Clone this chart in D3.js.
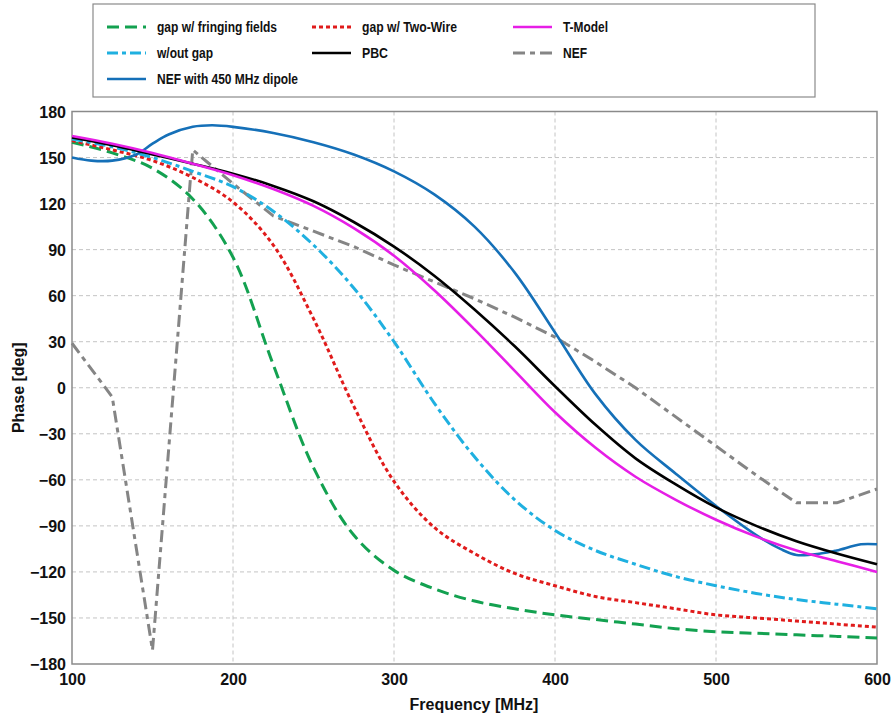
<!DOCTYPE html>
<html>
<head>
<meta charset="utf-8">
<script src="https://cdn.jsdelivr.net/npm/d3@7"></script>
<style>
  html, body { margin: 0; padding: 0; background: #fff; }
  svg { display: block; font-family: "Liberation Sans", Arial, sans-serif; }
</style>
</head>
<body>
<svg id="chart" width="894" height="716"></svg>
<script>
// ---------------- data ----------------
const freqs = [100,125,150,175,200,225,250,275,300,325,350,375,400,425,450,475,500,525,550,575,600];

const gapFringing = [160,153,143,123,85,15,-52,-96,-119,-131,-139,-144,-148,-151,-154,-157,-159,-160,-161,-162,-163];
const gapTwoWire  = [161,155,148,137,121,93,45,-12,-61,-91,-108,-121,-129,-136,-140,-144,-148,-150,-152,-154,-156];
const withoutGap  = [162,157,150,141,131,115,93,65,30,-10,-45,-73,-93,-106,-115,-123,-129,-134,-138,-141,-144];
const pbc         = [163,158,152,146,139.5,131.5,121.5,108,92,73,51,27,1,-24,-46,-63,-78,-90,-100,-108,-115];
const tModel      = [164,159,153,146,138.5,129.5,118.5,104,86,63.5,38,11,-16,-39,-58,-73,-86,-97,-106,-113,-120];
const nef         = [29,-6,-171,155,133,112,102,92,80,69,58,46,33,17,0,-19,-38,-57,-75,-75,-66];

const dipoleFreqs = [100,112,125,140,150,160,175,187,200,225,250,275,300,325,350,375,400,425,450,475,500,525,540,550,565,575,590,600];
const nefDipole   = [150,148,148,152,159,165,170,171,170,166,160,152,141,126,105,75,36,-4,-34,-56,-77,-96,-105,-109,-108,-106,-102,-102];

const xTicks = [100,200,300,400,500,600];
const yTicks = [180,150,120,90,60,30,0,-30,-60,-90,-120,-150,-180];

const seriesNames = ["gap w/ fringing fields","w/out gap","NEF with 450 MHz dipole","gap w/ Two-Wire","PBC","T-Model","NEF"];

// ---------------- layout ----------------
const svg = d3.select("#chart");
const L = 72, R = 877, T = 111.5, B = 664;

const x = d3.scaleLinear().domain([100,600]).range([L,R]);
const y = d3.scaleLinear().domain([-180,180]).range([B,T]);

// grid
const g = svg.append("g");
g.selectAll("line.hg").data(yTicks.filter(v => v !== 180 && v !== -180)).enter()
  .append("line").attr("x1", L).attr("x2", R)
  .attr("y1", d => y(d)).attr("y2", d => y(d))
  .attr("stroke", "#c4c4c4").attr("stroke-width", 1).attr("stroke-dasharray", "4,3");
g.selectAll("line.vg").data(xTicks.filter(v => v !== 100 && v !== 600)).enter()
  .append("line").attr("y1", T).attr("y2", B)
  .attr("x1", d => x(d)).attr("x2", d => x(d))
  .attr("stroke", "#c4c4c4").attr("stroke-width", 1).attr("stroke-dasharray", "4,3");

// frame
svg.append("rect").attr("x", L).attr("y", T).attr("width", R - L).attr("height", B - T)
  .attr("fill", "none").attr("stroke", "#8a8a8a").attr("stroke-width", 1.5);

// axes (labels only)
const xAxis = d3.axisBottom(x).tickValues(xTicks).tickSize(0).tickPadding(10).tickFormat(d3.format("d"));
const yAxis = d3.axisLeft(y).tickValues(yTicks).tickSize(0).tickPadding(6).tickFormat(d3.format("d"));
const gx = svg.append("g").attr("transform", `translate(0,${B})`).call(xAxis);
const gy = svg.append("g").attr("transform", `translate(${L},0)`).call(yAxis);
[gx, gy].forEach(a => {
  a.select(".domain").remove();
  a.selectAll("text").attr("font-family", "Liberation Sans, Arial, sans-serif")
    .attr("font-size", 16).attr("font-weight", "bold").attr("fill", "#111");
});
gx.selectAll("text").attr("dy", "0.71em");
gy.selectAll("text").attr("dy", "0.36em");

// axis titles
svg.append("text").attr("x", 474).attr("y", 710).attr("text-anchor", "middle")
  .attr("font-size", 16).attr("font-weight", "bold").attr("fill", "#111").text("Frequency [MHz]");
svg.append("text").attr("transform", `translate(24,${(T + B) / 2}) rotate(-90)`).attr("text-anchor", "middle")
  .attr("font-size", 16).attr("font-weight", "bold").attr("fill", "#111").text("Phase [deg]");

// lines
const styles = {
  fringing: {color: "#13a150", dash: "12,6", width: 3},
  twoWire:  {color: "#e01b1b", dash: "4,3", width: 3},
  without:  {color: "#1fb0e0", dash: "11,4,4,4", width: 3},
  pbc:      {color: "#000000", dash: null, width: 2.6},
  tModel:   {color: "#e61ee6", dash: null, width: 2.6},
  nef:      {color: "#858585", dash: "12,5,5,5", width: 3},
  dipole:   {color: "#1570b8", dash: null, width: 2.6}
};

const plot = svg.append("g");
function drawLine(xs, ys, st, curve) {
  const line = d3.line().x(d => x(d[0])).y(d => y(d[1])).curve(curve);
  const p = plot.append("path").datum(xs.map((f, i) => [f, ys[i]]))
    .attr("d", line).attr("fill", "none")
    .attr("stroke", st.color).attr("stroke-width", st.width)
    .attr("stroke-linejoin", "round");
  if (st.dash) p.attr("stroke-dasharray", st.dash);
}
const smooth = d3.curveCatmullRom.alpha(0.5);
drawLine(freqs, nef, styles.nef, d3.curveLinear);
drawLine(freqs, gapFringing, styles.fringing, smooth);
drawLine(freqs, gapTwoWire, styles.twoWire, smooth);
drawLine(freqs, withoutGap, styles.without, smooth);
drawLine(dipoleFreqs, nefDipole, styles.dipole, smooth);
drawLine(freqs, pbc, styles.pbc, smooth);
drawLine(freqs, tModel, styles.tModel, smooth);

// legend
svg.append("rect").attr("x", 93).attr("y", 4).attr("width", 722).attr("height", 93)
  .attr("fill", "#fff").attr("stroke", "#8a8a8a").attr("stroke-width", 1.2);
const legendItems = [
  {name: seriesNames[0], st: styles.fringing, lx: 107, ly: 27, w: 120},
  {name: seriesNames[1], st: styles.without,  lx: 107, ly: 53, w: 56},
  {name: seriesNames[2], st: styles.dipole,   lx: 107, ly: 79, w: 141},
  {name: seriesNames[3], st: styles.twoWire,  lx: 312, ly: 27, w: 95},
  {name: seriesNames[4], st: styles.pbc,      lx: 312, ly: 53, w: 26},
  {name: seriesNames[5], st: styles.tModel,   lx: 513, ly: 27, w: 45},
  {name: seriesNames[6], st: styles.nef,      lx: 513, ly: 53, w: 24}
];
const lg = svg.append("g");
legendItems.forEach(it => {
  const ln = lg.append("line").attr("x1", it.lx).attr("x2", it.lx + 39)
    .attr("y1", it.ly).attr("y2", it.ly)
    .attr("stroke", it.st.color).attr("stroke-width", it.st.width);
  if (it.st.dash) ln.attr("stroke-dasharray", it.st.dash);
  lg.append("text").attr("x", it.lx + 50).attr("y", it.ly + 5)
    .attr("font-size", 14).attr("font-weight", "bold").attr("fill", "#111")
    .attr("textLength", it.w).attr("lengthAdjust", "spacingAndGlyphs")
    .text(it.name);
});
</script>
</body>
</html>
